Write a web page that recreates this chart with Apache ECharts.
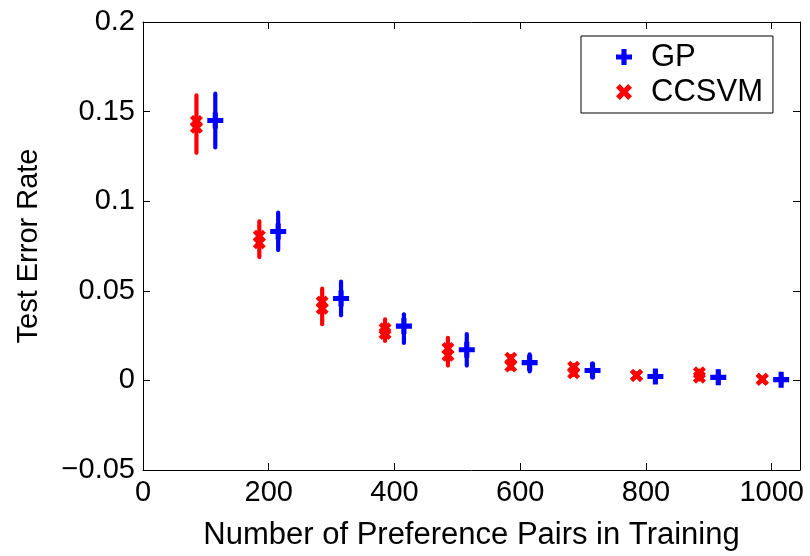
<!DOCTYPE html>
<html>
<head>
<meta charset="utf-8">
<script src="https://cdn.jsdelivr.net/npm/echarts@6/dist/echarts.min.js"></script>
<style>html,body{margin:0;padding:0;background:#fff}#c{width:810px;height:556px}</style>
</head>
<body>
<div id="c"></div>
<script>
// ---- data ----
var gpX = [115, 215, 315, 415, 515, 615, 715, 815, 915, 1015];
var gpMean = [0.145, 0.0831, 0.0457, 0.0303, 0.0171, 0.0099, 0.0055, 0.0022, 0.0017, 0.0004];
var gpHigh = [0.160, 0.0936, 0.0551, 0.0369, 0.0259, 0.0145, 0.0095, 0.0050, 0.0050, 0.0030];
var gpLow  = [0.130, 0.0727, 0.0363, 0.0209, 0.0083, 0.0050, 0.0015, -0.0005, -0.0015, -0.0020];

var ccsvmX = [85, 185, 285, 385, 485, 585, 685, 785, 885, 985];
var ccsvmA = [0.1445, 0.0805, 0.0437, 0.0288, 0.0178, 0.0124, 0.0074, 0.0028, 0.0042, 0.0006];
var ccsvmB = [0.1412, 0.0768, 0.0402, 0.0262, 0.0140, 0.0080, 0.0042, 0.0028, 0.0018, 0.0006];
var ccsvmHigh = [0.159, 0.0887, 0.0512, 0.0340, 0.0237, 0.0135, 0.0085, 0.0040, 0.0055, 0.0015];
var ccsvmLow  = [0.127, 0.0688, 0.0314, 0.0220, 0.0083, 0.0065, 0.0030, 0.0020, 0.0005, -0.0003];

var xTicks = [0, 200, 400, 600, 800, 1000];
var yTicks = [-0.05, 0, 0.05, 0.1, 0.15, 0.2];

// ---- build ----
var FONT = '"Liberation Sans", Arial, Helvetica, sans-serif';
var FS = 29;
var FS_BIG = 31;
var PLUS = 'path://M3.4,0H6.6V3.4H10V6.6H6.6V10H3.4V6.6H0V3.4H3.4Z';
var CROSS = 'path://M0,2.4L2.4,0L5,2.6L7.6,0L10,2.4L7.4,5L10,7.6L7.6,10L5,7.4L2.4,10L0,7.6L2.6,5Z';

function zip(xs, ys) { return xs.map(function (x, i) { return [x, ys[i]]; }); }
function bars(xs, lo, hi) { return xs.map(function (x, i) { return [x, lo[i], hi[i]]; }); }
function fmtY(v) {
  var s = String(parseFloat(v.toFixed(3)));
  return s.replace('-', '\u2212');
}
function errRender(color) {
  return function (params, api) {
    var p1 = api.coord([api.value(0), api.value(1)]);
    var p2 = api.coord([api.value(0), api.value(2)]);
    return {
      type: 'line',
      shape: { x1: p1[0], y1: p1[1], x2: p2[0], y2: p2[1] },
      style: { stroke: color, lineWidth: 4.2, lineCap: 'round' }
    };
  };
}

var axisCommon = {
  axisLine: { show: true, onZero: false, lineStyle: { color: '#000', width: 1 } },
  axisTick: { show: true, inside: true, length: 7, lineStyle: { color: '#000', width: 1 } },
  splitLine: { show: false }
};

var XMAX = 1045;
var option = {
  animation: false,
  backgroundColor: '#fff',
  grid: { left: 143, right: 10, top: 22, bottom: 80, containLabel: false },
  legend: {
    data: ['GP', 'CCSVM'],
    orient: 'vertical',
    left: 581, top: 36,
    backgroundColor: '#fff',
    borderColor: '#000', borderWidth: 1, borderRadius: 0,
    padding: [5, 10, 5, 35],
    itemWidth: 16, itemHeight: 16, itemGap: 3,
    textStyle: { fontFamily: FONT, fontSize: FS_BIG, color: '#000', lineHeight: 32, padding: [0, 0, 0, 14] }
  },
  xAxis: [
    Object.assign({}, axisCommon, {
      type: 'value', min: 0, max: XMAX, interval: 200, position: 'bottom',
      name: 'Number of Preference Pairs in Training', nameLocation: 'middle', nameGap: 50,
      nameTextStyle: { fontFamily: FONT, fontSize: FS_BIG, color: '#000' },
      axisLabel: { fontFamily: FONT, fontSize: FS, color: '#000', margin: 8, showMaxLabel: false,
        formatter: function (v) { return xTicks.indexOf(v) >= 0 ? String(v) : ''; } }
    }),
    Object.assign({}, axisCommon, {
      type: 'value', min: 0, max: XMAX, interval: 200, position: 'top',
      axisLabel: { show: false }
    })
  ],
  yAxis: [
    Object.assign({}, axisCommon, {
      type: 'value', min: -0.05, max: 0.2, interval: 0.05, position: 'left',
      name: 'Test Error Rate', nameLocation: 'middle', nameGap: 100, nameRotate: 90,
      nameTextStyle: { fontFamily: FONT, fontSize: FS, color: '#000' },
      axisLabel: { fontFamily: FONT, fontSize: FS, color: '#000', margin: 8,
        formatter: function (v) {
          for (var i = 0; i < yTicks.length; i++) if (Math.abs(yTicks[i] - v) < 1e-9) return fmtY(yTicks[i]);
          return '';
        } }
    }),
    Object.assign({}, axisCommon, {
      type: 'value', min: -0.05, max: 0.2, interval: 0.05, position: 'right',
      axisLabel: { show: false }
    })
  ],
  series: [
    { name: 'CCSVM err', type: 'custom', renderItem: errRender('#ff0000'), data: bars(ccsvmX, ccsvmLow, ccsvmHigh), z: 2, silent: true },
    { name: 'GP err', type: 'custom', renderItem: errRender('#0000ff'), data: bars(gpX, gpLow, gpHigh), z: 2, silent: true },
    { name: 'CCSVM', type: 'scatter', symbol: CROSS, symbolSize: 13, itemStyle: { color: '#ff0000', opacity: 1 }, data: zip(ccsvmX, ccsvmA), z: 3 },
    { name: 'CCSVM 2', type: 'scatter', symbol: CROSS, symbolSize: 13, itemStyle: { color: '#ff0000', opacity: 1 }, data: zip(ccsvmX, ccsvmB), z: 3 },
    { name: 'GP', type: 'scatter', symbol: PLUS, symbolSize: 16, itemStyle: { color: '#0000ff', opacity: 1 }, data: zip(gpX, gpMean), z: 3 }
  ]
};
var chart = echarts.init(document.getElementById('c'), null, { renderer: 'canvas' });
chart.setOption(option);
</script>
</body>
</html>
